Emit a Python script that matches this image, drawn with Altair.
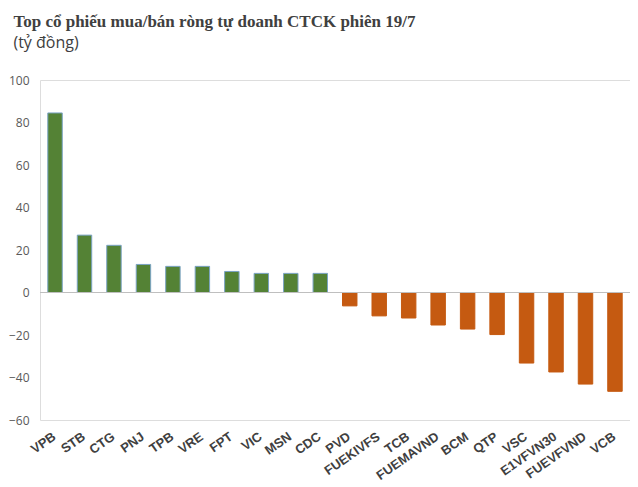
import altair as alt
import pandas as pd

tickers = ["VPB", "STB", "CTG", "PNJ", "TPB", "VRE", "FPT", "VIC", "MSN", "CDC",
           "PVD", "FUEKIVFS", "TCB", "FUEMAVND", "BCM", "QTP", "VSC", "E1VFVN30", "FUEVFVND", "VCB"]
values = [84.5, 27.0, 22.2, 13.2, 12.3, 12.3, 9.9, 9.0, 9.0, 9.0,
          -6.3, -11.0, -12.0, -15.3, -17.2, -19.8, -33.2, -37.4, -43.1, -46.5]
y_ticks = [-60, -40, -20, 0, 20, 40, 60, 80, 100]

df = pd.DataFrame({"ticker": tickers, "value": values})

x_enc = alt.X("ticker:N", sort=tickers, title=None,
              scale=alt.Scale(paddingInner=0.51, paddingOuter=0.265),
              axis=alt.Axis(labelAngle=-35, labelFont="Liberation Sans", labelFontWeight="bold",
                            labelFontSize=13, labelColor="#404040", labelPadding=10, labelOffset=-4,
                            labelLimit=300, domain=False, ticks=False, grid=False))
y_enc = alt.Y("value:Q", title=None,
              scale=alt.Scale(domain=[-60, 100], nice=False),
              axis=alt.Axis(values=y_ticks, labelFont="Open Sans", labelFontSize=12,
                            labelColor="#595959", labelPadding=11,
                            domain=False, ticks=False, grid=False))

bars = alt.Chart(df).mark_bar(strokeWidth=1).encode(
    x=x_enc,
    y=y_enc,
    color=alt.condition(alt.datum.value >= 0, alt.value("#548235"), alt.value("#C55A11")),
    stroke=alt.condition(alt.datum.value >= 0, alt.value("#7aa3c4"), alt.value("#C55A11")),
)

zero = alt.Chart(df).mark_rule(color="#bfbfbf", strokeWidth=1).encode(
    y=alt.Y(datum=0),
    x=alt.value(0),
    x2=alt.value(590),
)

chart = alt.layer(bars, zero).properties(
    width=590,
    height=340,
    autosize=alt.AutoSizeParams(type="none"),
    padding={"left": 32, "right": 0, "top": 72, "bottom": 60},
    title=alt.TitleParams(
        text="Top cổ phiếu mua/bán ròng tự doanh CTCK phiên 19/7",
        subtitle="(tỷ đồng)",
        anchor="start",
        frame="bounds",
        dx=5,
        font="Liberation Serif",
        fontSize=17,
        fontWeight="bold",
        color="#404040",
        subtitleFont="Open Sans",
        subtitleFontSize=16,
        subtitleColor="#404040",
        subtitlePadding=4,
        offset=22,
    ),
).configure_view(strokeWidth=0, stroke="transparent").configure_axis(
    grid=False, domain=False, ticks=False
).configure(background="white")

chart.save("out.html", embed_options={"renderer": "svg", "actions": False})
